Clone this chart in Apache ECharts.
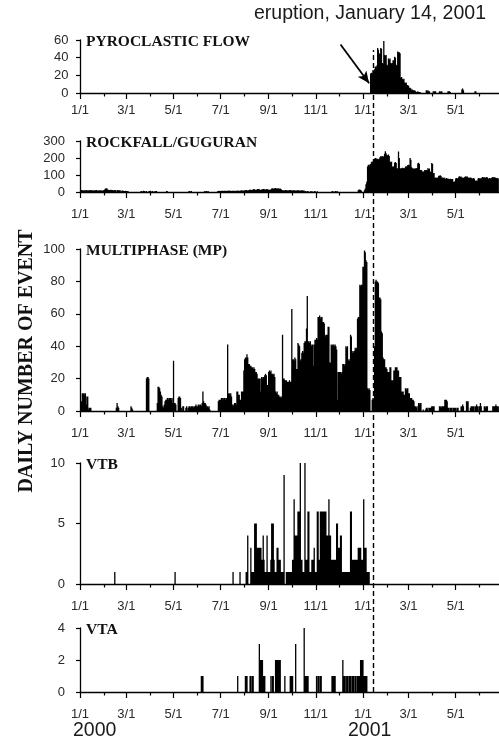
<!DOCTYPE html>
<html>
<head>
<meta charset="utf-8">
<title>Daily number of events, 2000–2001</title>
<script src="https://cdn.jsdelivr.net/npm/echarts@6.0.0/dist/echarts.min.js"></script>
<style>
  html, body { margin: 0; padding: 0; background: #fff; }
  #chart { width: 499px; height: 738px; }
</style>
</head>
<body>
<div id="chart"></div>
<script>
// Daily event counts per event type. Each series is a list of runs:
// [first day of the run, counts for consecutive days]. Days not covered had no events.

const pyroclasticFlow = [
  ['2001-01-11', [22,23,22, 26,25,27, 30,29,31, 51,49, 45,44, 51,50, 34,33, 59, 43,42,43, 32,31,
                  39,38,39, 34,33,34, 37,37, 41,40, 32,31, 47,46,46,45, 17,18, 16,15,16, 12,11,12,
                  9,9,8, 6,6,5, 3,4,3,3,3, 2,1,1,2,1,1,1]],
  ['2001-03-24', [3,2,3,2,2]],
  ['2001-04-02', [2,2,2,2]],
  ['2001-04-10', [2,1,2,2]],
  ['2001-04-21', [2,2,2,1]],
  ['2001-05-09', [4,5,3]],
  ['2001-05-26', [2,2]]
];

const rockfall = [
  ['2000-01-01', [8,10,12,10,9,11,10,8,12,10,9,10,11,10,12,9,10,8,11,10,9,12,10,8,9,11,10,9,10,8,9,
                  12,15,21,22,20,14,10,
                  12,10,13,11,12,9,10,12,11,0,10,12,9,11,10,0,8,9,7,
                  5,6,7,6,5,6]],
  ['2000-03-20', [6,5,0,7,6,5,0,6,0,0,5,6,7,0,5,6,0,0,6,5,6]],
  ['2000-04-22', [6,5]],
  ['2000-05-21', [6,5,0,6]],
  ['2000-06-10', [5,0,6,6,0,5]],
  ['2000-06-27', [5,6,7,6,6,7,8,7,6,7, 8,7,6,7,8,9,8,7,6,8, 7,8,7,6,7,8,9,8,7,8,
                  9,10,9,8,9,10,11,12,10,9, 10,12,14,12,11,13,15,17,14,12, 13,15,17,18,16,13,12,14,16,18,
                  17,15,14,16,17,15,13,12,14,15,
                  20,22,21,19,22,23,21,20,22,21,19,20,18,
                  12,10,11,9,10,12,11,10,9,11, 10,12,11,10,9,10,11,10,8,9, 10,11,10,9,8,10,9,10,8,9,
                  0,6,0,5,6,0,0,5,0,6,0,0,5,6,0,0,5,0]],
  ['2000-11-22', [5,6,0,0,5,6,0,5]],
  ['2000-12-26', [10,14,15,12,8,0, 0,0,10,20, 45,60,
                  150,160,155,162,165, 175,180,178,182, 195,200,198, 192,196,190,195,
                  205,210,208,212,206,210, 225,240,228, 218,215,220,212, 180,175,178,
                  150,148,152, 172,176,170, 140,138, 238,200,140, 140,138,142, 139,141,137,
                  149,152,148, 159,160,156, 200,190,145, 139,140,136, 138,140,139,141,
                  169,172,165, 129,130,128, 120,118,122, 129,128,130,126, 139,135,138,
                  120,118, 170,165, 110,112, 84,86,82,85,84, 96,95,98,94, 84,86,83,85,
                  80,78,82,80,79, 76,75,78,74,76,77, 61,60,63, 80,82,79,81, 90,92,88,91,
                  84,86,83,85, 90,92,88,91, 84,86,83,85,84, 80,79,82,80, 67,66,68,65,
                  80,82,79,81,80, 86,88,85,87,86,84,88,86, 80,79,82,80,81, 86,88,85,87,86,84,
                  80,82,79]]
];

const multiphase = [
  ['2000-01-02', [6,6,11,11,11,10,11,4,9,9,1,2,2,2]],
  ['2000-02-17', [2,5,3,2]],
  ['2000-03-07', [3,2,1]],
  ['2000-03-27', [20,21,21,20]],
  ['2000-04-10', [5,15,15,14,12,10,9,3,2, 4,6,7,7,8,8,7,8,8,7,8,5,31,5,5,4]],
  ['2000-05-07', [8,9,9,8, 2,0,3,3,0,0,2,3,0,2,3,3,2,3,3,3,2,3,3,4,3,3,4,3,4,4,3,5,12,6,5,5,4,3,3,2,3,1]],
  ['2000-06-28', [6,7,7,7,8,8,7,8,8,7,8,8, 41, 11,11,10,11,9, 4,3,4, 5,5,4,12,12, 10,10,7,7,12,12,
                  12, 25, 32,33,33, 35, 33, 29,29,28,28, 27,27,26,27,26, 24,24,23, 20,20,20, 12,
                  20,21,20,21,21, 22,23,22, 16,16, 24,25,24,25, 23,23,22,23,21, 12,11,12, 10,10,9,
                  9,8,9, 47, 20,20,19,19,19,18, 18,18,19,18,18, 63, 32,32,31,33,32, 26,26,
                  42,41,40, 31,32, 36,37,36, 42,43,43, 51, 71, 43,43,42,43, 41,40,41, 28, 41,
                  44,44,45,44, 58,58,59,57,58,58, 55,55,54, 47,46,47,47, 52,52, 30,30,
                  41,40,41,41,40,41,40, 38, 7, 24,24, 24,24,23,24, 29,29,28,29, 40,39,40,
                  31,32,31, 47,46, 36,37,36,37, 39,38,39, 57,58,58, 78,77,78,78, 89,89,
                  99,98, 93,92, 14,13,14,13]],
  ['2001-01-13', [7,8,7, 40, 80,81,80,80,79, 70,70,69, 49,48, 33,32,32, 27,27,26, 24,24,24, 27,27,
                  19,19,19, 25,25, 27,27,27, 25,25, 21,21,21, 12,12,12, 10,10, 14,13,14,14, 11,11,
                  8,8,8, 7,7,6, 3,3,2,3, 0, 5,4,5,5, 0,0,1,0,0,1, 2,1,2, 0, 2,2,2, 3,3,3,3]],
  ['2001-04-10', [3,3,2,3,3,3,3, 7,7,7,6, 2,2,0,2,2,2,0,2,2,2,2,0,2,2]],
  ['2001-05-08', [3,3,4,3]],
  ['2001-05-15', [6,6,6, 0,0,2, 3,3, 3,3,0,3,3,4,3,0,3,3,5,3]],
  ['2001-06-07', [3,3,2,3,3]],
  ['2001-06-18', [3,3,3,3,4,3,3,3]]
];

const vtb = [
  ['2000-02-15', [1]],
  ['2000-05-03', [1]],
  ['2000-07-17', [1]],
  ['2000-07-26', [1]],
  ['2000-08-03', [1,1,4,0,0,0,3,1,1,1, 1,5,5,5,3,3,3,3,3,3, 2,2,4,2,1,1,1,4,1,1,
                  1,1,2,5,5,5,2,1,1,1, 3,3,2,2,2,1,1,1,1,9]],
  ['2000-09-24', [1,1,1,1,1,1,1,1, 2,2, 7, 4,4,4,4, 6,6,6, 10, 2,2, 1,1,1, 10, 2,2,2, 6,6,
                  1,1,1, 2,2,2, 3, 1,1,1, 6,6, 2,2, 6,6,6,6,6,6,6,6, 4,4,4, 7, 4,4,
                  2,2,2,2,2,2,2, 5,5, 3,3,3, 4,4, 1,1,1,1,1,1,1,1,1,1,1, 6,6,
                  2,2,2,2,2,2,2,2, 3,3,3,3, 2,2,2, 7, 3,3,3, 1,1,1,1]]
];

const vta = [
  ['2000-06-06', [1,1,1]],
  ['2000-07-23', [1]],
  ['2000-08-02', [1,1,1,0,0,0,1,1,0,1,1]],
  ['2000-08-20', [3,2,2,2,2,1,1,1]],
  ['2000-09-04', [1,0,1,1]],
  ['2000-09-10', [2,2,2,2,2,2,2]],
  ['2000-09-22', [1]],
  ['2000-09-29', [1,1,1,1]],
  ['2000-10-06', [3]],
  ['2000-10-17', [4,1,1,1,1,1]],
  ['2000-11-02', [1,0,1,1]],
  ['2000-11-07', [1,1]],
  ['2000-11-22', [1,1,1,1,1]],
  ['2000-12-06', [2,1,1,1,0,1,1,0,1,1, 1,0,1,1,1,0,1,1,0,1, 1,1,1,2,2,2,2,1,1,1, 1,1]]
];

// Time axis: dates run from the start of 2000 to late June 2001
const axisStart = '2000-01-01';
const axisEnd = '2001-06-26';
const majorTickDates = ['2000-01-01','2000-03-01','2000-05-01','2000-07-01','2000-09-01','2000-11-01',
                        '2001-01-01','2001-03-01','2001-05-01'];
const minorTickDates = ['2000-02-01','2000-04-01','2000-06-01','2000-08-01','2000-10-01','2000-12-01',
                        '2001-02-01','2001-04-01','2001-06-01'];
const yearLabels = ['2000', '2001'];

const eruptionDate = '2001-01-14';
const eruptionText = 'eruption, January 14, 2001';
// arrow pointing at the onset of pyroclastic flows: [date, count]
const arrowFrom = ['2000-12-03', 55];
const arrowTo = ['2001-01-09', 11];

const panelNames = ['PYROCLASTIC FLOW', 'ROCKFALL/GUGURAN', 'MULTIPHASE (MP)', 'VTB', 'VTA'];
const panelMax = [60, 300, 100, 10, 4];
const panelStep = [20, 100, 20, 5, 2];
const yTitle = 'DAILY NUMBER OF EVENT';

// ---------------------------------------------------------------------------
const DAY = 86400000;
const T0 = Date.UTC(2000, 0, 1);
function dayIndex(s) {
  const [y, m, d] = s.split('-').map(Number);
  return Math.round((Date.UTC(y, m - 1, d) - T0) / DAY);
}
function dayLabel(v) {
  const dt = new Date(T0 + Math.round(v) * DAY);
  return (dt.getUTCMonth() + 1) + '/' + dt.getUTCDate();
}
function expand(runs) {
  const out = [];
  runs.forEach(([start, counts]) => {
    const d0 = dayIndex(start);
    counts.forEach((c, i) => { if (c > 0) out.push([d0 + i, c]); });
  });
  return out;
}

const xMin = dayIndex(axisStart);
const xMax = dayIndex(axisEnd);
const majorDays = majorTickDates.map(dayIndex);
const minorDays = minorTickDates.map(dayIndex);

const SANS = '"Liberation Sans", Arial, Helvetica, sans-serif';
const SERIF = '"Liberation Serif", "Times New Roman", Times, serif';
const INK = '#000';
const TEXT = '#2a2a2a';

const seriesData = [pyroclasticFlow, rockfall, multiphase, vtb, vta].map(expand);

// plot-area placement of the five stacked panels and their label gaps
const layout = [
  { top: 40, height: 53, xGap: 10.5, yGap: 11.5 },
  { top: 141, height: 51, xGap: 15.5, yGap: 15 },
  { top: 249, height: 162, xGap: 15.5, yGap: 15 },
  { top: 463, height: 121, xGap: 15.5, yGap: 15 },
  { top: 628, height: 64, xGap: 15.5, yGap: 15 }
];

const grids = [], xAxes = [], yAxes = [], series = [], graphics = [];

layout.forEach((g, i) => {
  grids.push({ left: 80, right: 0, top: g.top, height: g.height, outerBoundsMode: 'none' });

  // month ticks with labels every second month
  xAxes.push({
    type: 'value', gridIndex: i, min: xMin, max: xMax, position: 'bottom',
    axisLine: { show: true, onZero: false, lineStyle: { color: INK, width: 1.3 } },
    axisTick: { show: true, customValues: majorDays, length: 6, lineStyle: { color: INK, width: 1.2 } },
    axisLabel: { show: true, customValues: majorDays, formatter: dayLabel, margin: g.xGap,
                 fontSize: 13, fontFamily: SANS, color: TEXT },
    splitLine: { show: false }
  });
  // short ticks for the months in between
  xAxes.push({
    type: 'value', gridIndex: i, min: xMin, max: xMax, position: 'bottom',
    axisLine: { show: false, onZero: false },
    axisTick: { show: true, customValues: minorDays, length: 3.5, lineStyle: { color: INK, width: 1.2 } },
    axisLabel: { show: false },
    splitLine: { show: false }
  });

  yAxes.push({
    type: 'value', gridIndex: i, min: 0, max: panelMax[i], interval: panelStep[i],
    axisLine: { show: true, lineStyle: { color: INK, width: 1.3 } },
    axisTick: { show: true, length: 4, lineStyle: { color: INK, width: 1.2 } },
    axisLabel: { margin: g.yGap, fontSize: 13, fontFamily: SANS, color: TEXT },
    splitLine: { show: false }
  });

  // daily counts drawn as one merged path so adjacent days fuse without seams
  const s = {
    type: 'bar', name: panelNames[i], xAxisIndex: 2 * i, yAxisIndex: i,
    data: seriesData[i], barWidth: 1.3,
    large: true, largeThreshold: 1,
    itemStyle: { color: INK }, silent: true
  };
  if (i === 0) {
    s.markLine = {
      silent: true, symbol: ['none', 'arrow'], symbolSize: [8, 12],
      label: { show: false },
      lineStyle: { type: 'solid', color: INK, width: 1.8 },
      data: [[{ coord: [dayIndex(arrowFrom[0]), arrowFrom[1]] },
              { coord: [dayIndex(arrowTo[0]), arrowTo[1]] }]]
    };
  }
  series.push(s);

  graphics.push({
    type: 'text', x: 86, y: g.top + 2,
    style: { text: panelNames[i], fontSize: 15.5, fontWeight: 'bold', fontFamily: SERIF,
             fill: '#111', align: 'left', verticalAlign: 'middle' }
  });
});

// full-height overlay carrying the eruption marker across all panels
grids.push({ left: 80, right: 0, top: 50, height: 642, outerBoundsMode: 'none' });
xAxes.push({ type: 'value', gridIndex: 5, min: xMin, max: xMax, show: false });
yAxes.push({ type: 'value', gridIndex: 5, min: 0, max: 1, show: false });
series.push({
  type: 'line', xAxisIndex: 10, yAxisIndex: 5, data: [], silent: true,
  markLine: {
    silent: true, symbol: ['none', 'none'], label: { show: false },
    lineStyle: { type: [5, 3], color: INK, width: 1.4 },
    data: [{ xAxis: dayIndex(eruptionDate) }]
  }
});

graphics.push(
  { type: 'text', x: 254, y: 14,
    style: { text: eruptionText, fontSize: 19.5, fontFamily: SANS, fill: '#1a1a1a',
             align: 'left', verticalAlign: 'middle' } },
  { type: 'text', x: 27, y: 361, rotation: Math.PI / 2,
    style: { text: yTitle, fontSize: 20, fontWeight: 'bold', fontFamily: SERIF, fill: '#111',
             align: 'center', verticalAlign: 'middle' } },
  { type: 'text', x: 73, y: 731,
    style: { text: yearLabels[0], fontSize: 19.5, fontFamily: SANS, fill: '#1a1a1a',
             align: 'left', verticalAlign: 'middle' } },
  { type: 'text', x: 348, y: 731,
    style: { text: yearLabels[1], fontSize: 19.5, fontFamily: SANS, fill: '#1a1a1a',
             align: 'left', verticalAlign: 'middle' } }
);

const chart = echarts.init(document.getElementById('chart'), null, { renderer: 'canvas' });
chart.setOption({
  animation: false,
  backgroundColor: '#fff',
  textStyle: { fontFamily: SANS },
  grid: grids,
  xAxis: xAxes,
  yAxis: yAxes,
  series: series,
  graphic: graphics
});
</script>
</body>
</html>
